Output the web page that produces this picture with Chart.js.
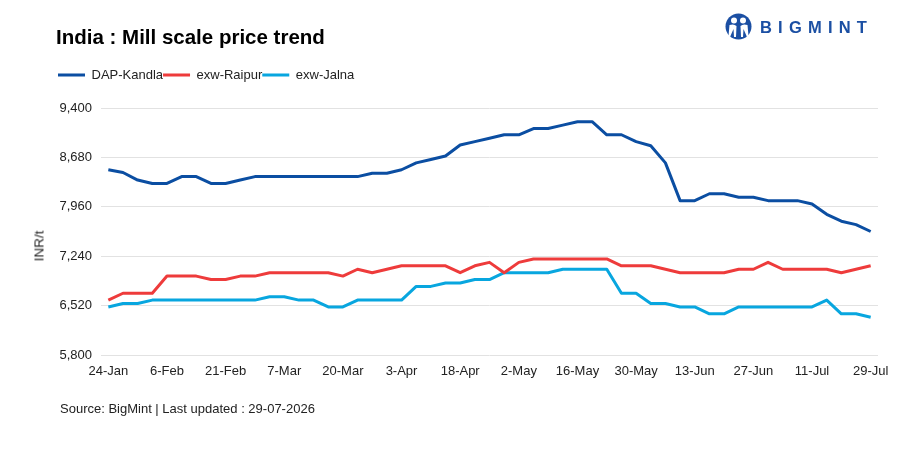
<!DOCTYPE html>
<html>
<head>
<meta charset="utf-8">
<script src="https://cdn.jsdelivr.net/npm/chart.js@4"></script>
<style>
  html, body { margin:0; padding:0; background:#fff; }
  body { width:908px; height:456px; position:relative; overflow:hidden; font-family:"Liberation Sans", Arial, sans-serif; }
  #wrap { position:absolute; left:0; top:0; width:908px; height:456px; }
  #title { position:absolute; left:56px; top:27px; font-size:20.5px; line-height:20px; font-weight:bold; color:#000; white-space:nowrap; }
  #ytitle { position:absolute; left:39px; top:246px; transform:translate(-50%,-50%) rotate(-90deg); font-size:13.5px; color:#222; white-space:nowrap; }
  #source { position:absolute; left:60px; top:401px; font-size:13px; line-height:15px; color:#222; white-space:nowrap; }
  #logo { position:absolute; left:722px; top:11px; }
  #logotext { position:absolute; left:760px; top:18px; font-size:16.5px; line-height:18px; font-weight:bold; color:#1b4fa3; letter-spacing:6.2px; white-space:nowrap; }
</style>
</head>
<body>
<div id="wrap"><canvas id="c"></canvas></div>
<div id="title">India : Mill scale price trend</div>
<div id="ytitle">INR/t</div>
<div id="source">Source: BigMint | Last updated : 29-07-2026</div>
<svg id="logo" width="34" height="32" viewBox="0 0 34 32">
  <circle cx="16.5" cy="15.5" r="13" fill="#1b4fa3"/>
  <circle cx="12" cy="9.5" r="3" fill="#fff"/>
  <circle cx="21" cy="9.5" r="3" fill="#fff"/>
  <path d="M7.5 14 Q12 12.5 14.5 15 L14 26 L12 26 L11.5 18 L8 26 L6.5 25 Z" fill="#fff"/>
  <path d="M25.5 14 Q21 12.5 18.5 15 L19 26 L21 26 L21.5 18 L25 26 L26.5 25 Z" fill="#fff"/>
</svg>
<div id="logotext">BIGMINT</div>
<script>
// ---- data ----
const tickLabels = ["24-Jan","6-Feb","21-Feb","7-Mar","20-Mar","3-Apr","18-Apr","2-May","16-May","30-May","13-Jun","27-Jun","11-Jul","29-Jul"];
const pointsPerTick = 4;

const dapKandla = [8500,8460,8350,8300,8300,8400,8400,8300,8300,8350,8400,8400,8400,8400,8400,8400,8400,8400,
                   8450,8450,8500,8600,8650,8700,8860,8910,8960,9010,9010,9100,9100,9150,9200,9200,9010,9010,
                   8910,8850,8600,8050,8050,8150,8150,8100,8100,8050,8050,8050,8000,7850,7750,7700,7600];
const exwRaipur = [6600,6700,6700,6700,6950,6950,6950,6900,6900,6950,6950,7000,7000,7000,7000,7000,6950,7050,
                   7000,7050,7100,7100,7100,7100,7000,7100,7150,7000,7150,7200,7200,7200,7200,7200,7200,7100,
                   7100,7100,7050,7000,7000,7000,7000,7050,7050,7150,7050,7050,7050,7050,7000,7050,7100];
const exwJalna  = [6500,6550,6550,6600,6600,6600,6600,6600,6600,6600,6600,6650,6650,6600,6600,6500,6500,6600,
                   6600,6600,6600,6800,6800,6850,6850,6900,6900,7000,7000,7000,7000,7050,7050,7050,7050,6700,
                   6700,6550,6550,6500,6500,6400,6400,6500,6500,6500,6500,6500,6500,6600,6400,6400,6350];

const yMin = 5800, yMax = 9400, yStep = 720;

// category labels: tick label every 4th point
const categories = dapKandla.map((_, i) => (i % pointsPerTick === 0 ? tickLabels[i / pointsPerTick] : ''));

const FONT = '"Liberation Sans", Arial, sans-serif';

const legendSpacer = {
  id: 'legendSpacer',
  beforeInit(chart) {
    const origFit = chart.legend.fit;
    chart.legend.fit = function () {
      origFit.bind(chart.legend)();
      this.height += 16.5;
    };
  }
};

new Chart(document.getElementById('c'), {
  type: 'line',
  data: {
    labels: categories,
    datasets: [
      { label: 'DAP-Kandla', data: dapKandla, borderColor: '#0b4ea2', backgroundColor: '#0b4ea2' },
      { label: 'exw-Raipur', data: exwRaipur, borderColor: '#ee3b3b', backgroundColor: '#ee3b3b' },
      { label: 'exw-Jalna',  data: exwJalna,  borderColor: '#08a6df', backgroundColor: '#08a6df' }
    ].map(d => Object.assign(d, { borderWidth: 3, pointRadius: 0, pointHoverRadius: 0, tension: 0, fill: false, borderJoinStyle: 'round' }))
  },
  options: {
    responsive: true,
    maintainAspectRatio: false,
    animation: false,
    layout: { padding: { left: 58, right: 30, top: 68.5, bottom: 71 } },
    plugins: {
      legend: {
        display: true,
        position: 'top',
        align: 'start',
        labels: {
          usePointStyle: true,
          pointStyle: 'line',
          pointStyleWidth: 27,
          padding: 0,
          color: '#222',
          font: { size: 13, family: FONT }
        }
      },
      tooltip: { enabled: false },
      title: { display: false }
    },
    scales: {
      x: {
        offset: true,
        grid: { display: false, drawTicks: false },
        border: { display: false },
        ticks: { autoSkip: false, maxRotation: 0, minRotation: 0, padding: 9, color: '#222', font: { size: 13, family: FONT } },
        afterFit(scale) { scale.height = 30; }
      },
      y: {
        min: yMin,
        max: yMax,
        grid: { color: '#e2e2e2', lineWidth: 1, drawTicks: false },
        border: { display: false },
        ticks: {
          stepSize: yStep,
          padding: 9,
          color: '#222',
          font: { size: 13, family: FONT },
          callback: v => v.toLocaleString('en-US')
        },
        afterFit(scale) { scale.width = 43; }
      }
    }
  },
  plugins: [legendSpacer]
});
</script>
</body>
</html>
